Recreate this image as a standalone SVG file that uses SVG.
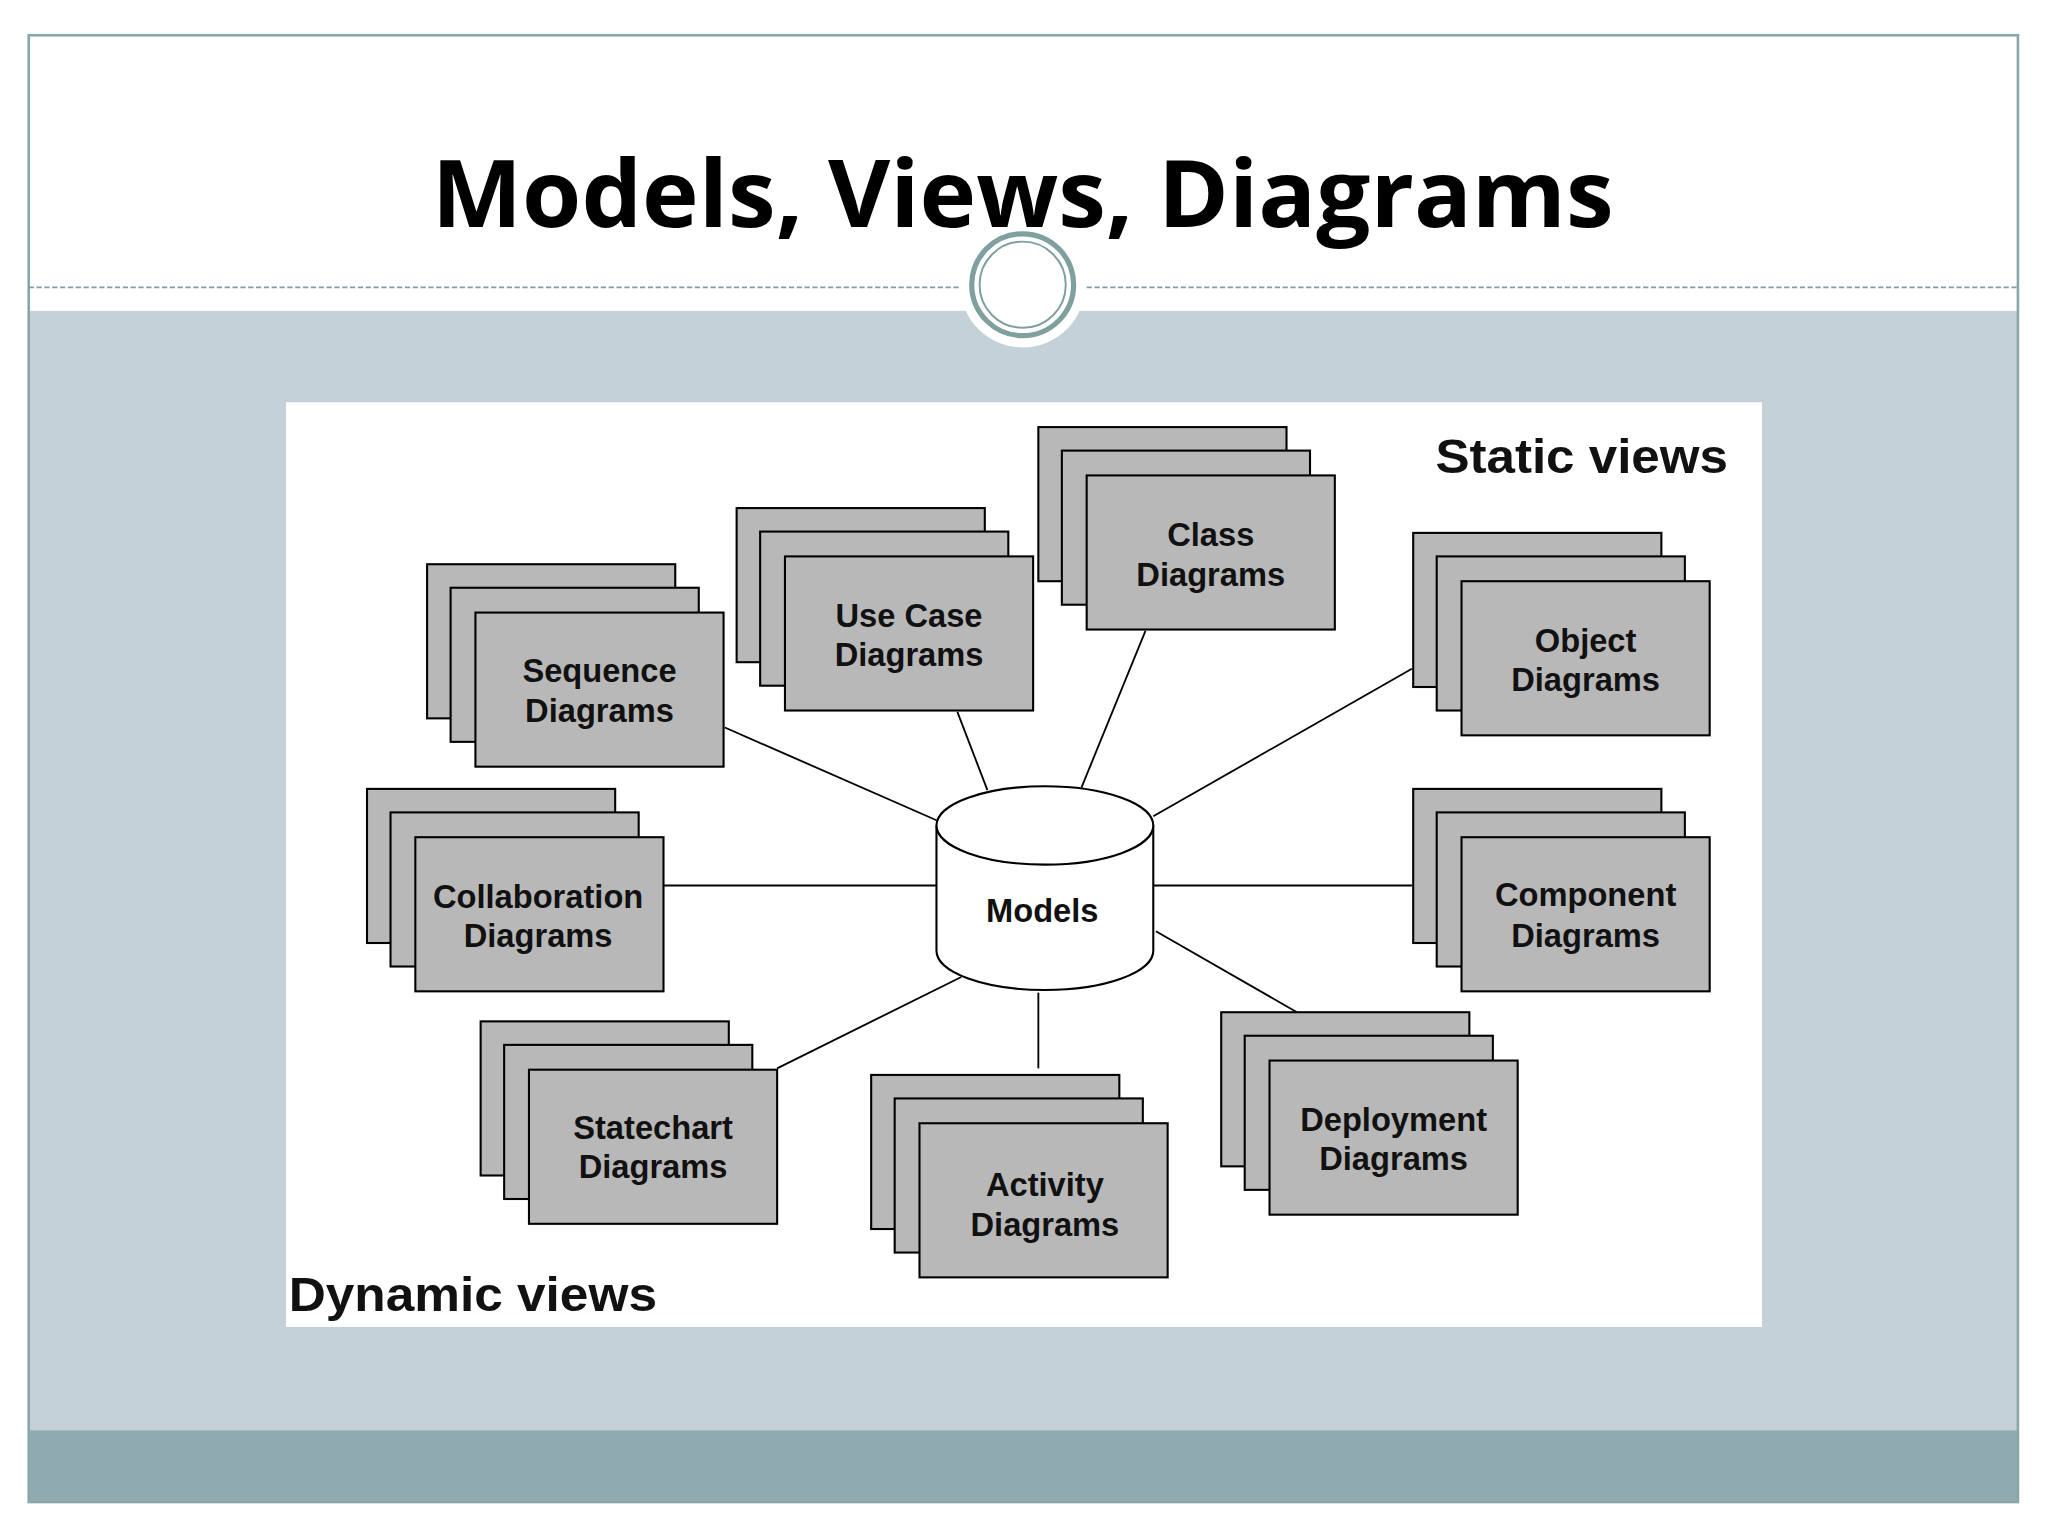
<svg xmlns="http://www.w3.org/2000/svg" width="2048" height="1536" viewBox="0 0 2048 1536">
<defs>
<style>
.b{fill:#b8b8b8;stroke:#000;stroke-width:1.6}
.t{font-family:"Liberation Sans",Arial,sans-serif;font-weight:bold;font-size:25px;text-anchor:middle;fill:#111}
.v{font-family:"Liberation Sans",Arial,sans-serif;font-weight:bold;font-size:37px;fill:#111}
.c line{stroke:#000;stroke-width:1.4}
</style>
<g id="stk"><rect class="b" x="0" y="0" width="190" height="118"/><rect class="b" x="18" y="18" width="190" height="118"/><rect class="b" x="37" y="37" width="190" height="118"/></g>
</defs>
<g transform="scale(1.3061)">
<rect x="0" y="0" width="1568" height="1176" fill="#fff"/>
<rect x="22" y="238" width="1523" height="857" fill="#c5d1d8"/>
<rect x="22" y="1095" width="1523" height="55" fill="#8fabb0"/>
<rect x="22" y="27" width="1523" height="1123" fill="none" stroke="#8aa6a8" stroke-width="2"/>
<line x1="22" y1="220" x2="1545" y2="220" stroke="#7f9fa2" stroke-width="1.2" stroke-dasharray="4,2"/>
<circle cx="783" cy="218" r="48" fill="#fff"/>
<circle cx="783" cy="218" r="39" fill="#fff" stroke="#7fa09f" stroke-width="4"/>
<circle cx="783" cy="218" r="33" fill="none" stroke="#7fa09f" stroke-width="1.5"/>
<text x="783" y="174" text-anchor="middle" font-family="'Open Sans','Noto Sans',sans-serif" font-weight="bold" font-size="72" textLength="905" lengthAdjust="spacingAndGlyphs" fill="#000">Models, Views, Diagrams</text>
<rect x="219" y="308" width="1130" height="708" fill="#fff"/>
<g class="c" id="connectors">
<line x1="555" y1="557" x2="717" y2="628"/>
<line x1="733" y1="545" x2="756" y2="605"/>
<line x1="877" y1="483" x2="828" y2="603"/>
<line x1="1081" y1="512" x2="883" y2="625"/>
<line x1="508" y1="678" x2="717" y2="678"/>
<line x1="883" y1="678" x2="1081" y2="678"/>
<line x1="595" y1="818" x2="736" y2="748"/>
<line x1="795" y1="760" x2="795" y2="818"/>
<line x1="885" y1="713" x2="993" y2="775"/>
</g>
<g id="models">
<path d="M717,632 L717,728 A83,30 0 0 0 883,728 L883,632" fill="#fff" stroke="#000" stroke-width="1.6"/>
<ellipse cx="800" cy="632" rx="83" ry="30" fill="#fff" stroke="#000" stroke-width="1.6"/>
<text class="t" x="798" y="706">Models</text>
</g>
<g id="sequence"><use href="#stk" x="327" y="432"/><text class="t" x="459" y="522">Sequence</text><text class="t" x="459" y="553">Diagrams</text></g>
<g id="usecase"><use href="#stk" x="564" y="389"/><text class="t" x="696" y="480">Use Case</text><text class="t" x="696" y="510">Diagrams</text></g>
<g id="class"><use href="#stk" x="795" y="327"/><text class="t" x="927" y="418">Class</text><text class="t" x="927" y="449">Diagrams</text></g>
<g id="object"><use href="#stk" x="1082" y="408"/><text class="t" x="1214" y="499">Object</text><text class="t" x="1214" y="529">Diagrams</text></g>
<g id="collaboration"><use href="#stk" x="281" y="604"/><text class="t" x="412" y="695">Collaboration</text><text class="t" x="412" y="725">Diagrams</text></g>
<g id="component"><use href="#stk" x="1082" y="604"/><text class="t" x="1214" y="694">Component</text><text class="t" x="1214" y="725">Diagrams</text></g>
<g id="statechart"><use href="#stk" x="368" y="782"/><text class="t" x="500" y="872">Statechart</text><text class="t" x="500" y="902">Diagrams</text></g>
<g id="activity"><use href="#stk" x="667" y="823"/><text class="t" x="800" y="916">Activity</text><text class="t" x="800" y="946">Diagrams</text></g>
<g id="deployment"><use href="#stk" x="935" y="775"/><text class="t" x="1067" y="866">Deployment</text><text class="t" x="1067" y="896">Diagrams</text></g>
<text class="v" x="1099" y="362" textLength="224" lengthAdjust="spacingAndGlyphs">Static views</text>
<text class="v" x="221" y="1004" textLength="282" lengthAdjust="spacingAndGlyphs">Dynamic views</text>
</g>
</svg>
